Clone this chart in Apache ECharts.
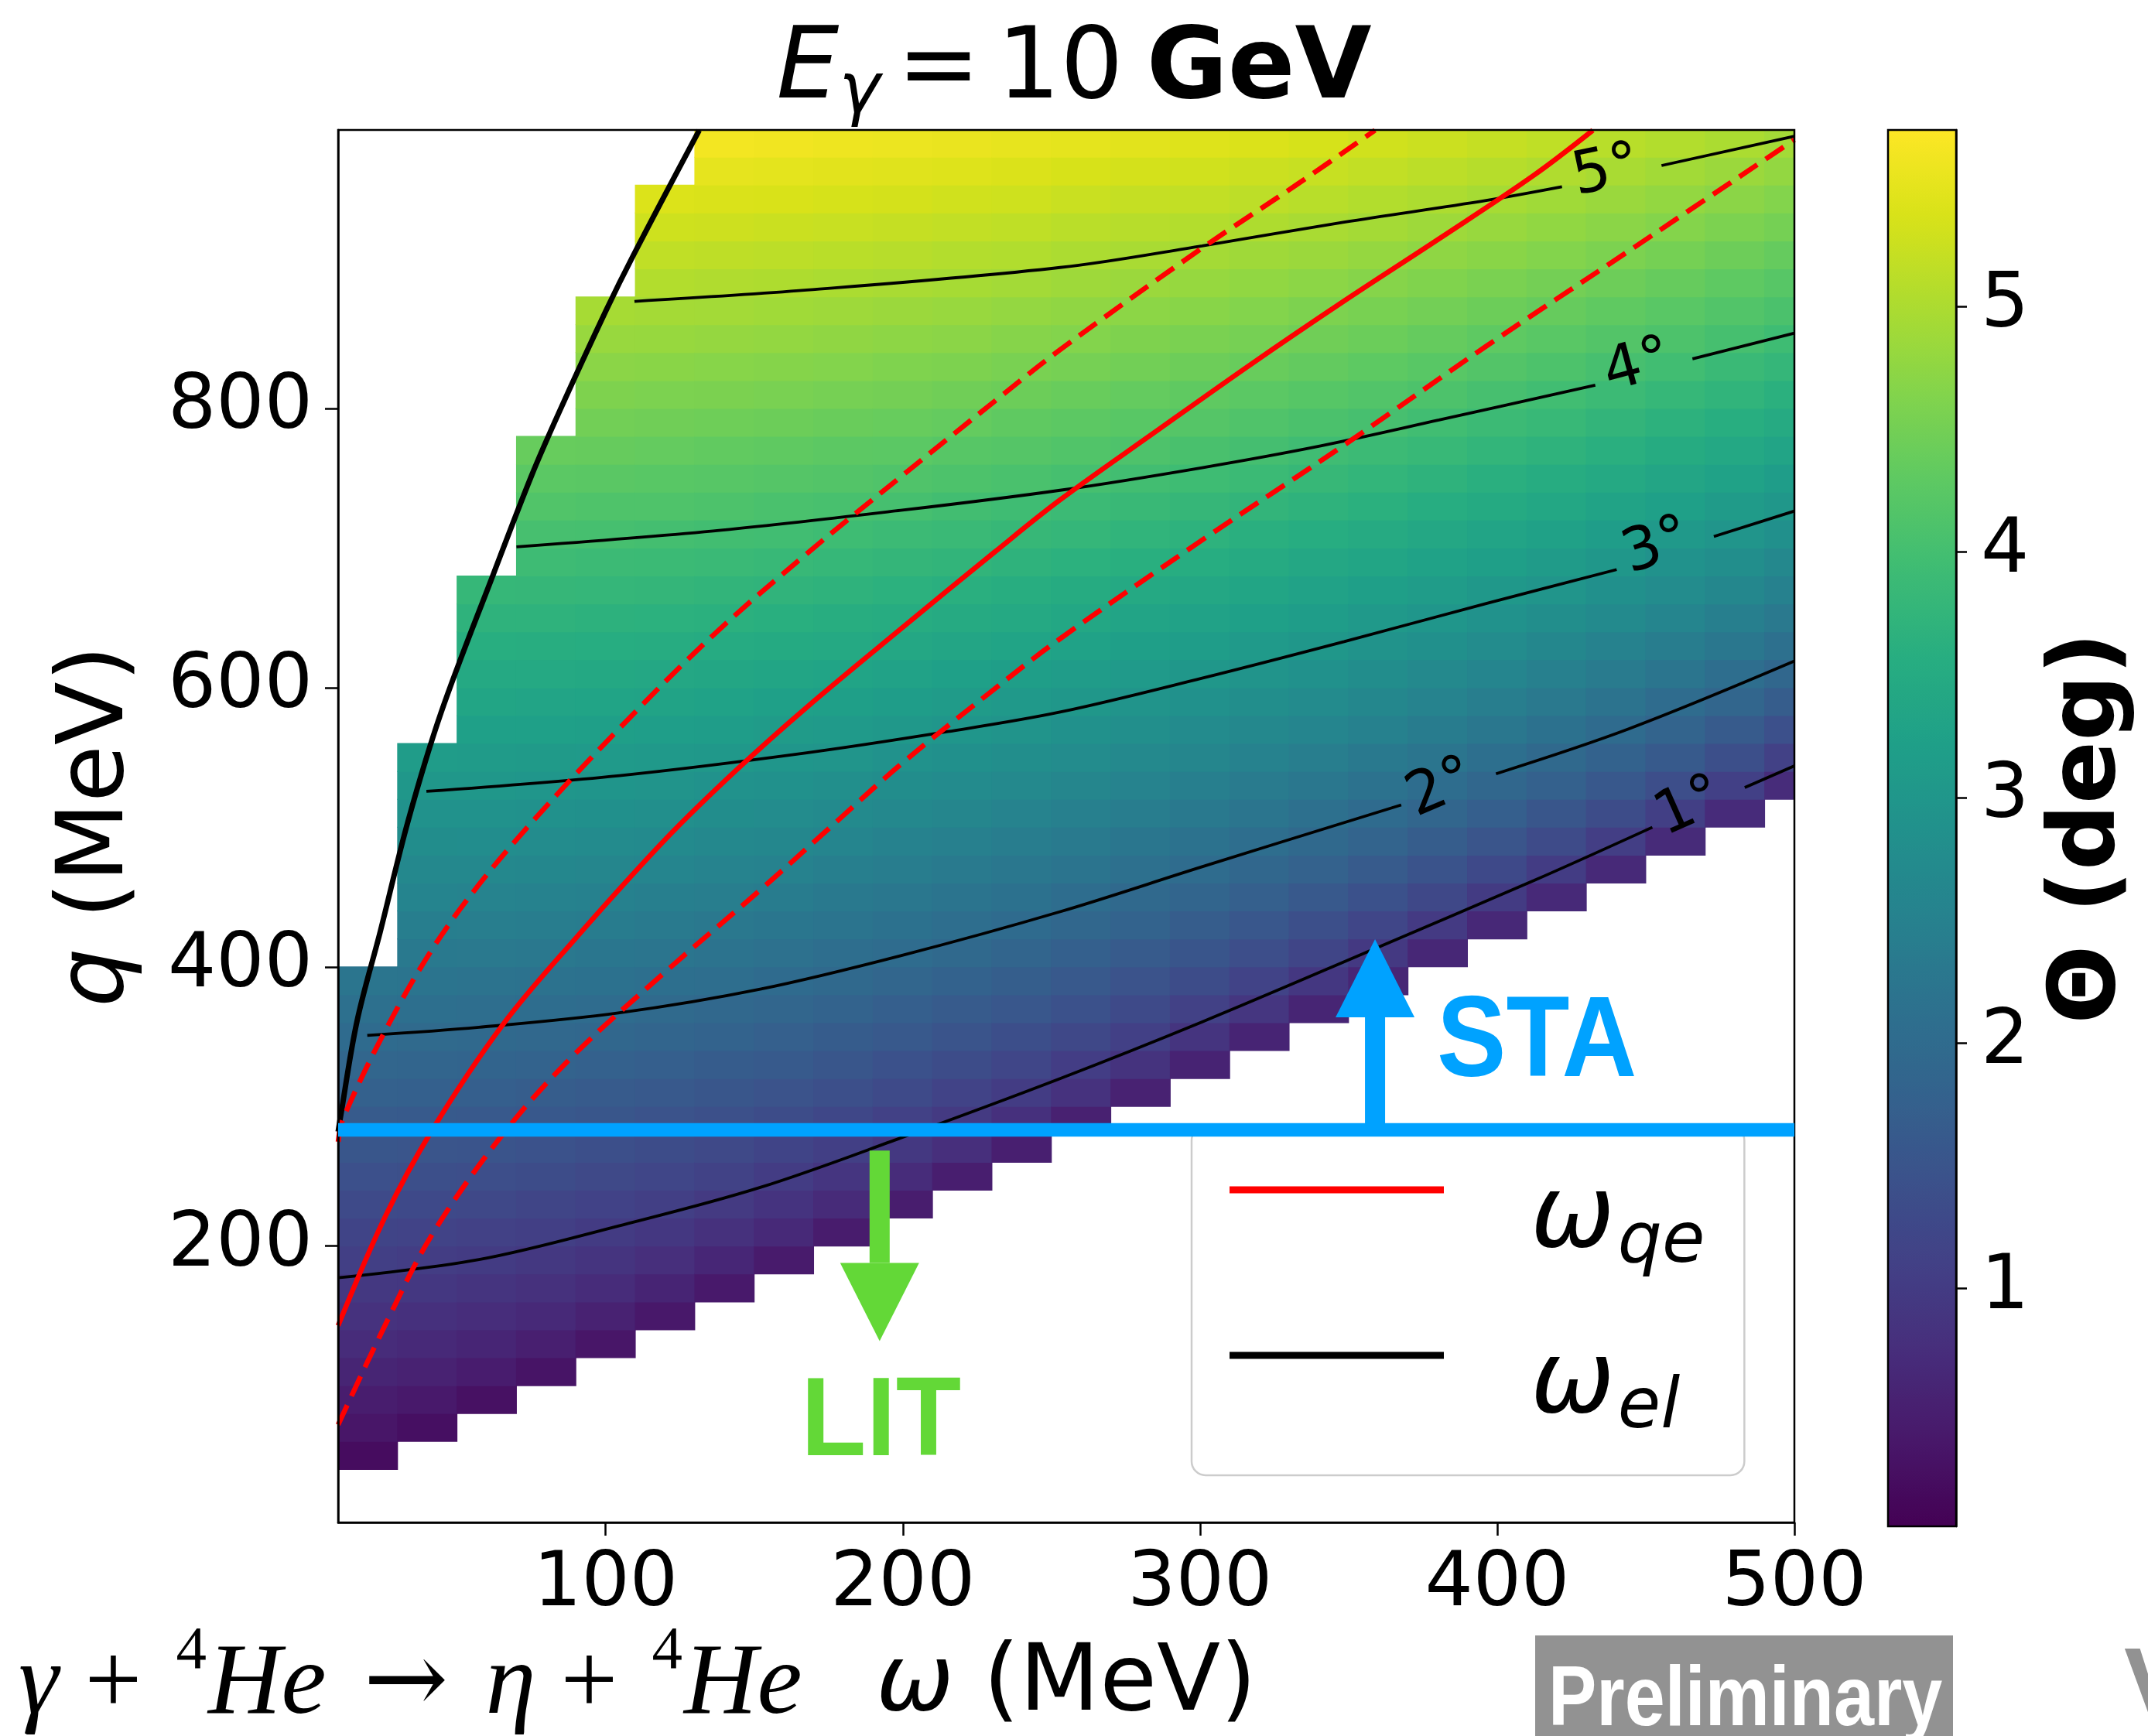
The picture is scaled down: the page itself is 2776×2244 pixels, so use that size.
<!DOCTYPE html>
<html>
<head>
<meta charset="utf-8">
<script src="https://cdn.jsdelivr.net/npm/echarts@6/dist/echarts.min.js"></script>
<style>
html,body{margin:0;padding:0;background:#ffffff;}
#chart{width:2776px;height:2244px;}
</style>
</head>
<body>
<div id="chart"></div>
<script>
// ---------------- DATA ----------------
const xTickValues = [100, 200, 300, 400, 500];
const yTickValues = [200, 400, 600, 800];
const cbTickValues = [1, 2, 3, 4, 5];
const omegaRange = [10, 500];
const qRange = [2, 999.5];
const thetaRange = [0.03, 5.72];

// heat-map grid: column centres (omega, MeV) and row centres (q, MeV)
const omegaCols = [20,40,60,80,100,120,140,160,180,200,220,240,260,280,300,320,340,360,380,400,420,440,460,480,500];
const qRows = [10,30,50,70,90,110,130,150,170,190,210,230,250,270,290,310,330,350,370,390,410,430,450,470,490,
               510,530,550,570,590,610,630,650,670,690,710,730,750,770,790,810,830,850,870,890,910,930,950,970,990];
// index in qRows of the first filled cell of each column
const colStartRow = [2,3,4,5,6,7,8,9,10,11,12,13,14,15,16,17,18,19,20,21,22,23,24,25,26];
// Theta (deg) of each filled cell, column by column, bottom to top
const thetaCols = [
 [0.20,0.35,0.47,0.60,0.72,0.83,0.95,1.07,1.18,1.30,1.42,1.53,1.65,1.76,1.88,1.99,2.11,2.22],
 [0.25,0.41,0.55,0.67,0.80,0.92,1.04,1.16,1.28,1.40,1.51,1.63,1.75,1.86,1.98,2.09,2.21,2.33,2.44,2.56,2.67,2.79,2.90,3.02,3.13],
 [0.28,0.46,0.61,0.74,0.87,1.00,1.12,1.25,1.37,1.49,1.60,1.72,1.84,1.96,2.08,2.19,2.31,2.43,2.54,2.66,2.77,2.89,3.01,3.12,3.24,3.35,3.47,3.58,3.70,3.81],
 [0.32,0.51,0.67,0.81,0.94,1.07,1.20,1.33,1.45,1.57,1.69,1.81,1.93,2.05,2.17,2.29,2.40,2.52,2.64,2.76,2.87,2.99,3.10,3.22,3.34,3.45,3.57,3.69,3.80,3.92,4.03,4.15,4.26,4.38],
 [0.35,0.55,0.72,0.87,1.01,1.14,1.27,1.40,1.53,1.65,1.77,1.90,2.02,2.14,2.26,2.38,2.50,2.61,2.73,2.85,2.97,3.08,3.20,3.32,3.44,3.55,3.67,3.79,3.90,4.02,4.13,4.25,4.37,4.48,4.60,4.71,4.83,4.95],
 [0.38,0.59,0.77,0.92,1.07,1.21,1.34,1.47,1.60,1.73,1.85,1.98,2.10,2.22,2.34,2.46,2.58,2.70,2.82,2.94,3.06,3.18,3.30,3.41,3.53,3.65,3.77,3.88,4.00,4.12,4.23,4.35,4.47,4.58,4.70,4.82,4.93,5.05,5.17,5.28,5.40],
 [0.40,0.63,0.81,0.98,1.13,1.27,1.41,1.54,1.67,1.80,1.93,2.06,2.18,2.30,2.43,2.55,2.67,2.79,2.91,3.03,3.15,3.27,3.39,3.51,3.63,3.74,3.86,3.98,4.10,4.22,4.33,4.45,4.57,4.68,4.80,4.92,5.03,5.15,5.27,5.38,5.50,5.62],
 [0.43,0.67,0.86,1.03,1.18,1.33,1.47,1.61,1.74,1.87,2.00,2.13,2.26,2.38,2.51,2.63,2.75,2.88,3.00,3.12,3.24,3.36,3.48,3.60,3.72,3.84,3.96,4.07,4.19,4.31,4.43,4.55,4.66,4.78,4.90,5.02,5.13,5.25,5.37,5.48,5.60],
 [0.45,0.70,0.90,1.07,1.23,1.39,1.53,1.67,1.81,1.94,2.07,2.20,2.33,2.46,2.59,2.71,2.83,2.96,3.08,3.20,3.32,3.45,3.57,3.69,3.81,3.93,4.05,4.17,4.28,4.40,4.52,4.64,4.76,4.88,4.99,5.11,5.23,5.35,5.46,5.58],
 [0.47,0.73,0.94,1.12,1.29,1.44,1.59,1.73,1.87,2.01,2.14,2.28,2.41,2.53,2.66,2.79,2.91,3.04,3.16,3.29,3.41,3.53,3.65,3.77,3.90,4.02,4.14,4.26,4.38,4.50,4.61,4.73,4.85,4.97,5.09,5.21,5.33,5.44,5.56],
 [0.49,0.77,0.98,1.16,1.34,1.49,1.65,1.79,1.94,2.07,2.21,2.35,2.48,2.61,2.74,2.86,2.99,3.12,3.24,3.37,3.49,3.61,3.74,3.86,3.98,4.10,4.22,4.35,4.47,4.59,4.71,4.83,4.95,5.06,5.18,5.30,5.42,5.54],
 [0.51,0.80,1.02,1.21,1.38,1.55,1.70,1.85,2.00,2.14,2.28,2.41,2.55,2.68,2.81,2.94,3.07,3.19,3.32,3.45,3.57,3.70,3.82,3.94,4.07,4.19,4.31,4.43,4.55,4.67,4.79,4.92,5.04,5.16,5.28,5.39,5.51],
 [0.53,0.83,1.05,1.25,1.43,1.60,1.75,1.91,2.05,2.20,2.34,2.48,2.61,2.75,2.88,3.01,3.14,3.27,3.40,3.52,3.65,3.78,3.90,4.02,4.15,4.27,4.39,4.52,4.64,4.76,4.88,5.00,5.12,5.24,5.36,5.49],
 [0.55,0.85,1.09,1.29,1.47,1.64,1.81,1.96,2.11,2.26,2.40,2.54,2.68,2.82,2.95,3.08,3.21,3.34,3.47,3.60,3.73,3.85,3.98,4.11,4.23,4.35,4.48,4.60,4.72,4.85,4.97,5.09,5.21,5.33,5.46],
 [0.57,0.88,1.12,1.33,1.52,1.69,1.86,2.02,2.17,2.32,2.46,2.61,2.74,2.88,3.02,3.15,3.29,3.42,3.55,3.68,3.80,3.93,4.06,4.19,4.31,4.44,4.56,4.69,4.81,4.93,5.06,5.18,5.30,5.42],
 [0.59,0.91,1.15,1.37,1.56,1.74,1.91,2.07,2.22,2.37,2.52,2.67,2.81,2.95,3.08,3.22,3.35,3.49,3.62,3.75,3.88,4.01,4.14,4.26,4.39,4.52,4.64,4.77,4.89,5.02,5.14,5.26,5.39],
 [0.60,0.93,1.19,1.40,1.60,1.78,1.95,2.12,2.28,2.43,2.58,2.73,2.87,3.01,3.15,3.29,3.42,3.56,3.69,3.82,3.95,4.08,4.21,4.34,4.47,4.59,4.72,4.85,4.97,5.10,5.22,5.35],
 [0.62,0.96,1.22,1.44,1.64,1.83,2.00,2.17,2.33,2.49,2.64,2.79,2.93,3.07,3.21,3.35,3.49,3.63,3.76,3.89,4.03,4.16,4.29,4.42,4.54,4.67,4.80,4.93,5.05,5.18,5.30],
 [0.64,0.99,1.25,1.48,1.68,1.87,2.05,2.22,2.38,2.54,2.69,2.84,2.99,3.14,3.28,3.42,3.56,3.69,3.83,3.96,4.10,4.23,4.36,4.49,4.62,4.75,4.88,5.01,5.13,5.26],
 [0.65,1.01,1.28,1.51,1.72,1.91,2.09,2.27,2.43,2.59,2.75,2.90,3.05,3.20,3.34,3.48,3.62,3.76,3.90,4.03,4.17,4.30,4.43,4.56,4.70,4.83,4.95,5.08,5.21],
 [0.67,1.03,1.31,1.54,1.76,1.95,2.14,2.31,2.48,2.64,2.80,2.96,3.11,3.26,3.40,3.54,3.69,3.83,3.96,4.10,4.24,4.37,4.50,4.64,4.77,4.90,5.03,5.16],
 [0.68,1.06,1.34,1.58,1.79,1.99,2.18,2.36,2.53,2.70,2.86,3.01,3.16,3.31,3.46,3.61,3.75,3.89,4.03,4.17,4.31,4.44,4.58,4.71,4.84,4.97,5.10],
 [0.70,1.08,1.37,1.61,1.83,2.03,2.22,2.41,2.58,2.75,2.91,3.07,3.22,3.37,3.52,3.67,3.81,3.96,4.10,4.24,4.37,4.51,4.65,4.78,4.91,5.05],
 [0.71,1.10,1.39,1.64,1.87,2.07,2.27,2.45,2.63,2.80,2.96,3.12,3.28,3.43,3.58,3.73,3.87,4.02,4.16,4.30,4.44,4.58,4.71,4.85,4.99],
 [0.73,1.12,1.42,1.68,1.90,2.11,2.31,2.49,2.67,2.84,3.01,3.17,3.33,3.49,3.64,3.79,3.93,4.08,4.22,4.36,4.51,4.64,4.78,4.92]
];
const cellHalfOmega = 10;
const cellHalfQ = 10;

// contour lines of Theta (omega, q); null = gap for the inline label
const contour1 = [[10,177.3],[57.4,190.3],[104.7,214.6],[152,242],[199.3,277.5],[252.9,320],[300.7,360.6],[358.1,412.4],[412.3,461.8],[452.2,500],null,[483.3,528.4],[500,544]];
const contour2 = [[19.8,350.9],[57.4,356.7],[104.7,367.1],[152,384],[199.3,408],[252.9,439.5],[300.7,471.7],[367.7,516],null,[399.6,538.3],[444.2,570.4],[500,619]];
const contour3 = [[39.7,525.7],[104.7,537],[167.7,553.3],[215.1,568.5],[252.9,582.5],[300.7,606.8],[348.5,633],[396.3,660.3],[440.2,684.6],null,[472.9,708.3],[500,726.5]];
const contour4 = [[70,700.9],[136.2,712.2],[199.3,727],[252.9,741.4],[300.7,757.6],[340.6,773.2],[380.4,791.7],[433,816.7],null,[465.7,835.5],[500,854]];
const contour5 = [[109.7,876.7],[167.7,884.8],[252.9,901],[300.7,916.5],[348.5,933.5],[396.3,949],[421.8,958.8],null,[455.3,974],[500,995]];
const contourLabelText = ['1°','2°','3°','4°','5°'];
const contourLabelOmega = [464.8, 381.2, 453.8, 447.3, 436.8];
const contourLabelQ = [513.8, 527.2, 700.3, 829.5, 969];

// omega_el (elastic) boundary line
const elasticLine = [[10,282],[10.8,292.6],[16.3,360.6],[24.2,425.5],[33.6,505],[44.7,582.5],[62,680],[75.1,752],[84.2,796.6],[100,869.5],[109.4,910],[131.5,999.3]];
// omega_qe (quasi-elastic) line and its dashed band
const qeLine = [[10,143],[25.8,221],[41.6,283],[65.2,358],[88.9,418],[120.4,492],[144,541],[167.7,586],[199.3,642],[230.8,697],[252.9,734.5],[284.8,783],[316.7,831],[348.5,877],[380.4,921.5],[412.3,967],[432.2,999.3]];
const qeUpperLine = [[10,274.7],[11.6,290.9],[25.8,354.1],[41.6,412.5],[57.4,459],[76.2,506],[104.7,571],[136.2,637.6],[167.7,696],[199.3,751],[230.8,805],[252.9,842],[300.7,914.9],[332.6,960.4],[358.9,999.3]];
const qeLowerLine = [[10,72],[25.8,143.3],[41.6,208.2],[65.2,279.5],[88.9,336],[120.4,397],[152,455],[175.6,500],[199.3,545],[230.8,599],[252.9,635],[300.7,705.7],[348.5,773.8],[396.3,844.6],[444.2,912.7],[500,992.5]];

// STA / LIT separation and arrows
const staLitQ = 283.2;
const arrowOmega = [358.9, 192.2];
const arrowFromQ = [283.2, 268.4];
const arrowToQ = [419.8, 131.9];

// ---------------- STYLE ----------------
const FONT = 'DejaVu Sans';
const viridis = ['#440154','#48186a','#472d7b','#424086','#3b528b','#33638d','#2c728e','#26828e','#21918c','#1fa088','#28ae80','#3fbc73','#5ec962','#84d44b','#addc30','#d8e219','#fde725'];
const BLUE = '#00a2ff';
const GREEN = '#63d837';
const arrowColors = [BLUE, GREEN];
const contourLabelAngle = [24, 23, 19, 15, 12];
const ARROW_HEAD_LEN = 101, ARROW_HEAD_W = 102, ARROW_SHAFT_W = 26;
const SMOOTH = 0.35;

// ---------------- BUILD ----------------
const heatData = [];
omegaCols.forEach((w, i) => {
  thetaCols[i].forEach((t, j) => heatData.push([w, qRows[colStartRow[i] + j], t]));
});

function renderCell(params, api) {
  const w = api.value(0), q = api.value(1);
  const p1 = api.coord([w - cellHalfOmega, q + cellHalfQ]);
  const p2 = api.coord([w + cellHalfOmega, q - cellHalfQ]);
  const cs = params.coordSys;
  const rect = echarts.graphic.clipRectByRect(
    {x: p1[0] - 0.5, y: p1[1] - 0.5, width: p2[0] - p1[0] + 1, height: p2[1] - p1[1] + 1},
    {x: cs.x, y: cs.y, width: cs.width, height: cs.height});
  if (!rect) return null;
  return {type: 'rect', shape: rect, style: {fill: api.visual('color')}};
}

function renderArrow(params, api) {
  const w = api.value(0), qa = api.value(1), qb = api.value(2);
  const a = api.coord([w, qa]), b = api.coord([w, qb]);
  const dir = b[1] < a[1] ? -1 : 1;
  const baseY = b[1] - dir * ARROW_HEAD_LEN;
  const color = arrowColors[params.dataIndex];
  return {type: 'group', children: [
    {type: 'rect', shape: {x: a[0] - ARROW_SHAFT_W / 2, y: Math.min(a[1], baseY), width: ARROW_SHAFT_W, height: Math.abs(baseY - a[1])}, style: {fill: color}},
    {type: 'polygon', shape: {points: [[b[0], b[1]], [b[0] - ARROW_HEAD_W / 2, baseY], [b[0] + ARROW_HEAD_W / 2, baseY]]}, style: {fill: color}}
  ]};
}

function splitSegments(arr) {
  const segs = [[]];
  arr.forEach(p => { if (p === null) segs.push([]); else segs[segs.length - 1].push(p); });
  return segs;
}

const series = [];
series.push({type: 'custom', name: 'Theta', renderItem: renderCell, data: heatData, encode: {x: 0, y: 1}, z: 1, silent: true});

[contour1, contour2, contour3, contour4, contour5].forEach((c, k) => {
  splitSegments(c).forEach(seg => series.push({
    type: 'line', name: 'contour' + (k + 1), data: seg, symbol: 'none', smooth: SMOOTH,
    lineStyle: {color: '#000', width: 3.8}, z: 3, silent: true
  }));
});

series.push({type: 'line', name: 'ω_el', data: elasticLine, symbol: 'none', smooth: SMOOTH,
  lineStyle: {color: '#000', width: 7}, itemStyle: {color: '#000'}, z: 4, silent: true});
series.push({type: 'line', name: 'ω_qe', data: qeLine, symbol: 'none', smooth: SMOOTH,
  lineStyle: {color: '#ff0000', width: 6.5}, itemStyle: {color: '#ff0000'}, z: 5, silent: true});
series.push({type: 'line', name: 'ω_qe upper', data: qeUpperLine, symbol: 'none', smooth: SMOOTH,
  lineStyle: {color: '#ff0000', width: 6.5, type: [28, 13]}, itemStyle: {color: '#ff0000'}, z: 5, silent: true});
series.push({type: 'line', name: 'ω_qe lower', data: qeLowerLine, symbol: 'none', smooth: SMOOTH,
  lineStyle: {color: '#ff0000', width: 6.5, type: [28, 13]}, itemStyle: {color: '#ff0000'}, z: 5, silent: true});

series.push({type: 'scatter', name: 'contour labels', symbolSize: 1, itemStyle: {color: 'rgba(0,0,0,0)'}, z: 6, silent: true,
  data: contourLabelText.map((t, i) => ({
    value: [contourLabelOmega[i], contourLabelQ[i]],
    label: {show: true, position: 'inside', formatter: t, rotate: contourLabelAngle[i], opacity: 1,
      fontFamily: FONT, fontSize: 77, color: '#000'}
  }))
});

series.push({type: 'line', name: 'STA/LIT', data: omegaRange.map(w => [w, staLitQ]), symbol: 'none',
  lineStyle: {color: BLUE, width: 17.6}, z: 10, silent: true});
series.push({type: 'custom', name: 'arrows', renderItem: renderArrow, z: 10, silent: true,
  data: arrowOmega.map((w, i) => [w, arrowFromQ[i], arrowToQ[i]]), encode: {x: 0, y: [1, 2]}});

const tickLabelStyle = {fontFamily: FONT, fontSize: 98, color: '#000'};
const titleTok = {fontFamily: FONT, fontWeight: 'normal', fontSize: 128, lineHeight: 128, verticalAlign: 'top', color: '#000'};
const formulaTok = {fontFamily: 'Liberation Serif', fontSize: 131, lineHeight: 131, verticalAlign: 'top', fill: '#000'};

const option = {
  animation: false,
  backgroundColor: '#ffffff',
  title: {
    text: '{e|E}{g|γ}{o|=}{n|10}{b|GeV}',
    left: 'center', top: 29, padding: [0, 22, 0, 0],
    textStyle: {fontFamily: FONT, fontSize: 128, fontWeight: 'normal', color: '#000', rich: {
      e: Object.assign({}, titleTok, {fontStyle: 'italic'}),
      g: Object.assign({}, titleTok, {fontStyle: 'italic', fontSize: 90, lineHeight: 90, padding: [48, 0, 0, 0]}),
      o: Object.assign({}, titleTok, {padding: [0, 22, 0, 22]}),
      n: Object.assign({}, titleTok, {padding: [0, 30, 0, 0]}),
      b: Object.assign({}, titleTok, {fontWeight: 'bold'})
    }}
  },
  grid: [
    {left: 437, top: 168, width: 1882, height: 1805, show: true, backgroundColor: 'transparent', borderColor: '#000', borderWidth: 2.5, z: 9},
    {left: 2440, top: 168, width: 88, height: 1805, show: true, backgroundColor: 'transparent', borderColor: '#000', borderWidth: 2.5, z: 9}
  ],
  xAxis: [
    {type: 'value', gridIndex: 0, min: omegaRange[0], max: omegaRange[1], position: 'bottom', z: 9,
      axisLine: {show: true, onZero: false, lineStyle: {color: '#000', width: 2.5}},
      axisTick: {show: true, length: 17, lineStyle: {color: '#000', width: 2.5}, customValues: xTickValues},
      axisLabel: Object.assign({customValues: xTickValues, margin: 33}, tickLabelStyle),
      splitLine: {show: false},
      name: '{i|ω} (MeV)', nameLocation: 'middle', nameGap: 151,
      nameTextStyle: {fontFamily: FONT, fontSize: 120, color: '#000', rich: {i: {fontFamily: FONT, fontStyle: 'italic', fontSize: 120, color: '#000'}}}
    },
    {type: 'value', gridIndex: 1, min: 0, max: 1, show: false}
  ],
  yAxis: [
    {type: 'value', gridIndex: 0, min: qRange[0], max: qRange[1], position: 'left', z: 9,
      axisLine: {show: true, onZero: false, lineStyle: {color: '#000', width: 2.5}},
      axisTick: {show: true, length: 17, lineStyle: {color: '#000', width: 2.5}, customValues: yTickValues},
      axisLabel: Object.assign({customValues: yTickValues, margin: 33}, tickLabelStyle),
      splitLine: {show: false},
      name: '{i|q} (MeV)', nameLocation: 'middle', nameGap: 250, nameRotate: 90,
      nameTextStyle: {fontFamily: FONT, fontSize: 120, color: '#000', rich: {i: {fontFamily: FONT, fontStyle: 'italic', fontSize: 120, color: '#000'}}}
    },
    {type: 'value', gridIndex: 1, min: thetaRange[0], max: thetaRange[1], position: 'right', z: 9,
      axisLine: {show: true, onZero: false, lineStyle: {color: '#000', width: 2.5}},
      axisTick: {show: true, length: 14, lineStyle: {color: '#000', width: 2.5}, customValues: cbTickValues},
      axisLabel: Object.assign({customValues: cbTickValues, margin: 32}, tickLabelStyle),
      splitLine: {show: false},
      name: 'Θ (deg)', nameLocation: 'middle', nameGap: 113, nameRotate: 90,
      nameTextStyle: {fontFamily: FONT, fontSize: 120, fontWeight: 'bold', color: '#000'}
    }
  ],
  visualMap: {
    type: 'continuous', min: thetaRange[0], max: thetaRange[1], dimension: 2, seriesIndex: 0,
    left: 2440, top: 168, itemWidth: 88, itemHeight: 1805, padding: 0,
    calculable: false, hoverLink: false, orient: 'vertical', text: null, showLabel: false,
    inRange: {color: viridis}, z: 4
  },
  legend: {
    data: ['ω_qe', 'ω_el'], orient: 'vertical', left: 1540, top: 1456, z: 5,
    selectedMode: false, icon: 'rect', itemWidth: 277, itemHeight: 9, itemGap: 34,
    padding: [17, 51, 40, 49],
    backgroundColor: 'rgba(255,255,255,0.8)', borderColor: '#cccccc', borderWidth: 2.5, borderRadius: 18,
    formatter: name => name === 'ω_qe' ? '{w|ω}{s|qe}' : '{w|ω}{s|el}',
    textStyle: {color: '#000', rich: {
      w: {fontFamily: FONT, fontStyle: 'italic', fontSize: 130, lineHeight: 130, verticalAlign: 'top', padding: [39, 0, 0, 107], color: '#000'},
      s: {fontFamily: FONT, fontStyle: 'italic', fontSize: 90, lineHeight: 90, verticalAlign: 'top', padding: [90, 0, 0, 4], color: '#000'}
    }}
  },
  graphic: [
    {type: 'text', x: 1857, y: 1350, z: 20, scaleX: 0.9, originX: 0, originY: 0,
      style: {text: 'STA', fill: BLUE, font: 'bold 149px "Liberation Sans"', textAlign: 'left', textVerticalAlign: 'middle'}},
    {type: 'text', x: 1035, y: 1841, z: 20, scaleX: 0.96, originX: 0, originY: 0,
      style: {text: 'LIT', fill: GREEN, font: 'bold 144px "Liberation Sans"', textAlign: 'left', textVerticalAlign: 'middle'}},
    {type: 'rect', z: 20, shape: {x: 1984, y: 2114, width: 540, height: 140}, style: {fill: '#929292'}},
    {type: 'text', x: 2001, y: 2200, z: 21, scaleX: 0.85, originX: 0, originY: 0,
      style: {text: 'Preliminary', fill: '#ffffff', font: 'bold 110px "Liberation Sans"', textAlign: 'left', textVerticalAlign: 'middle'}},
    {type: 'text', x: 2745, y: 2186, z: 20,
      style: {text: 'V', fill: '#929292', font: 'bold 131px "Liberation Sans"', textAlign: 'left', textVerticalAlign: 'middle'}},
    {type: 'text', x: 16, y: 2096, z: 20,
      style: {
        text: '{g|γ}{p|+}{s|4}{m|He}{a|→}{h|η}{p|+}{s|4}{m|He}',
        textAlign: 'left', textVerticalAlign: 'top', fill: '#000',
        rich: {
          g: Object.assign({}, formulaTok, {fontStyle: 'italic', padding: [18, 14, 0, 8]}),
          h: Object.assign({}, formulaTok, {fontStyle: 'italic', padding: [18, 12, 0, 0]}),
          m: Object.assign({}, formulaTok, {fontStyle: 'italic', padding: [18, 0, 0, 0]}),
          p: Object.assign({}, formulaTok, {padding: [18, 44, 0, 20]}),
          a: Object.assign({}, formulaTok, {fontFamily: 'DejaVu Serif', padding: [18, 48, 0, 48]}),
          s: {fontFamily: 'Liberation Serif', fontSize: 79, lineHeight: 79, verticalAlign: 'top', padding: [0, 2, 0, 0], fill: '#000'}
        }
      }}
  ],
  series: series
};

const chart = echarts.init(document.getElementById('chart'), null, {renderer: 'canvas', width: 2776, height: 2244, devicePixelRatio: 1});
chart.setOption(option);
</script>
</body>
</html>
